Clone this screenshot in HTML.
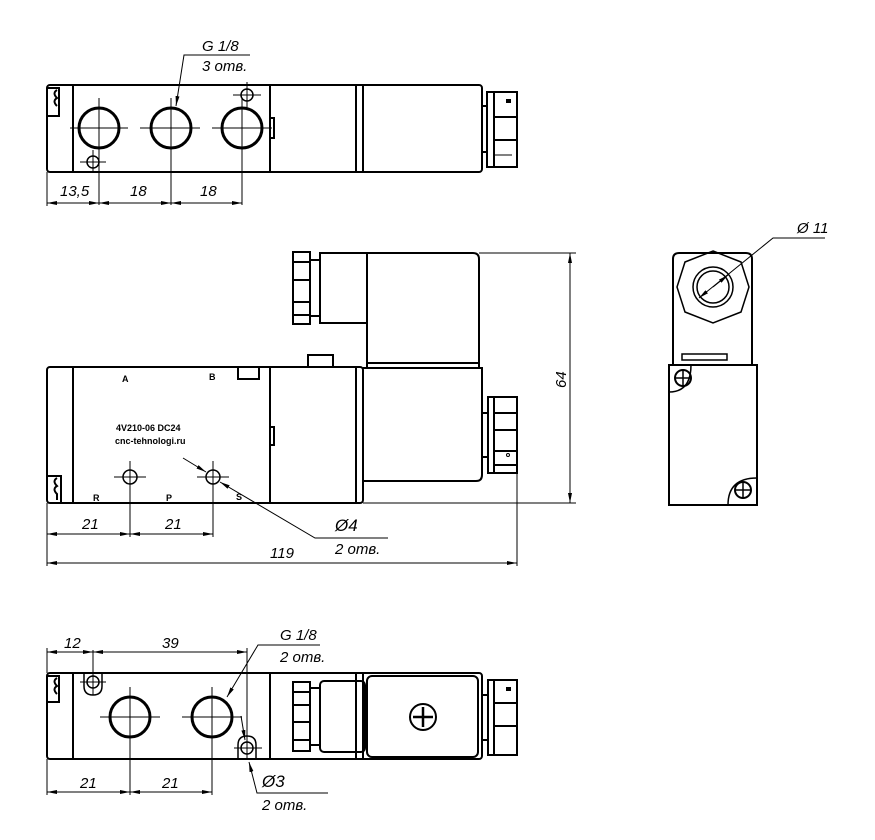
<!DOCTYPE html>
<html><head><meta charset="utf-8"><style>
html,body{margin:0;padding:0;background:#fff}
svg{display:block}
text{font-family:"Liberation Sans",sans-serif;font-style:italic;font-size:15px;fill:#000}
.b{font-style:normal;font-weight:bold;font-size:9px}
</style></head><body>
<svg width="875" height="840" viewBox="0 0 875 840" xmlns="http://www.w3.org/2000/svg">
<defs>
<marker id="a" viewBox="0 0 10 4" refX="10" refY="2" markerWidth="10" markerHeight="4" orient="auto-start-reverse" markerUnits="userSpaceOnUse"><path d="M0,0L10,2L0,4z" fill="#000"/></marker>
</defs>
<g fill="none" stroke="#000" stroke-width="2">
<!-- TOP VIEW -->
<rect x="47" y="85" width="435" height="87" rx="3"/>
<line x1="73" y1="85" x2="73" y2="172"/>
<line x1="270" y1="85" x2="270" y2="172"/>
<line x1="356" y1="85" x2="356" y2="172"/>
<line x1="363" y1="85" x2="363" y2="172"/>
<path d="M47,88 h12 v28 h-12"/>
<path d="M57,90 q-5,3 0,8 q-5,3 0,8"/>
<rect x="270" y="118" width="4" height="20"/>
<rect x="487" y="92" width="30" height="75"/>
<line x1="494" y1="92" x2="494" y2="167"/>
<line x1="494" y1="117" x2="517" y2="117"/>
<line x1="494" y1="140" x2="517" y2="140"/>
<line x1="482" y1="106" x2="487" y2="106"/>
<line x1="482" y1="152" x2="487" y2="152"/>
<line x1="494" y1="155" x2="512" y2="155" stroke-width="1"/>
<circle cx="99" cy="128" r="20" stroke-width="3"/>
<circle cx="171" cy="128" r="20" stroke-width="3"/>
<circle cx="242" cy="128" r="20" stroke-width="3"/>
<circle cx="93" cy="162" r="6" stroke-width="1.5"/>
<circle cx="247" cy="95" r="6" stroke-width="1.5"/>
<rect x="507" y="100" width="3" height="2" fill="#000"/>
</g>
<g stroke="#000" stroke-width="1" fill="none">
<line x1="70" y1="128" x2="128" y2="128"/><line x1="99" y1="98" x2="99" y2="205"/>
<line x1="140" y1="128" x2="200" y2="128"/><line x1="171" y1="98" x2="171" y2="205"/>
<line x1="212" y1="128" x2="272" y2="128"/><line x1="242" y1="98" x2="242" y2="205"/>
<line x1="80" y1="162" x2="106" y2="162"/><line x1="93" y1="150" x2="93" y2="172"/>
<line x1="233" y1="95" x2="261" y2="95"/><line x1="247" y1="82" x2="247" y2="108"/>
<line x1="47" y1="172" x2="47" y2="206"/>
<line x1="47" y1="203" x2="99" y2="203" marker-start="url(#a)" marker-end="url(#a)"/>
<line x1="99" y1="203" x2="171" y2="203" marker-start="url(#a)" marker-end="url(#a)"/>
<line x1="171" y1="203" x2="242" y2="203" marker-start="url(#a)" marker-end="url(#a)"/>
<polyline points="250,55 184,55 176,106" marker-end="url(#a)"/>
</g>
<text x="60" y="196">13,5</text><text x="130" y="196">18</text><text x="200" y="196">18</text>
<text x="202" y="51">G 1/8</text><text x="202" y="71">3 отв.</text>

<!-- FRONT VIEW -->
<g fill="none" stroke="#000" stroke-width="2">
<rect x="47" y="367" width="316" height="136" rx="3"/>
<line x1="73" y1="367" x2="73" y2="503"/>
<line x1="270" y1="367" x2="270" y2="503"/>
<line x1="356" y1="367" x2="356" y2="503"/>
<path d="M47,476 h14 v27"/>
<path d="M57,478 q-5,3 0,8 q-5,3 0,8 v6"/>
<rect x="270" y="427" width="4" height="18"/>
<rect x="238" y="367" width="21" height="12"/>
<rect x="308" y="355" width="25" height="12"/>
<path d="M363,368 H482 V475 q0,6 -6,6 H363"/>
<path d="M367,368 V253 H473 q6,0 6,6 V368"/>
<line x1="367" y1="363" x2="479" y2="363"/>
<rect x="320" y="253" width="47" height="70"/>
<rect x="293" y="252" width="17" height="72"/>
<line x1="310" y1="260" x2="320" y2="260"/><line x1="310" y1="316" x2="320" y2="316"/>
<line x1="293" y1="262" x2="310" y2="262"/><line x1="293" y1="280" x2="310" y2="280"/>
<line x1="293" y1="302" x2="310" y2="302"/><line x1="293" y1="315" x2="310" y2="315"/>
<rect x="488" y="397" width="29" height="76"/>
<line x1="494" y1="397" x2="494" y2="473"/>
<line x1="494" y1="413" x2="517" y2="413"/><line x1="494" y1="430" x2="517" y2="430"/>
<line x1="494" y1="451" x2="517" y2="451"/><line x1="494" y1="465" x2="517" y2="465"/>
<line x1="482" y1="413" x2="488" y2="413"/><line x1="482" y1="457" x2="488" y2="457"/>
<circle cx="130" cy="477" r="7" stroke-width="1.5"/>
<circle cx="213" cy="477" r="7" stroke-width="1.5"/>
<circle cx="508" cy="455" r="1.5" stroke-width="1"/>
</g>
<g stroke="#000" stroke-width="1" fill="none">
<line x1="114" y1="477" x2="146" y2="477"/><line x1="130" y1="461" x2="130" y2="537"/>
<line x1="197" y1="477" x2="229" y2="477"/><line x1="213" y1="461" x2="213" y2="537"/>
<line x1="47" y1="503" x2="47" y2="566"/>
<line x1="517" y1="473" x2="517" y2="566"/>
<line x1="47" y1="534" x2="130" y2="534" marker-start="url(#a)" marker-end="url(#a)"/>
<line x1="130" y1="534" x2="213" y2="534" marker-start="url(#a)" marker-end="url(#a)"/>
<line x1="47" y1="563" x2="517" y2="563" marker-start="url(#a)" marker-end="url(#a)"/>
<line x1="479" y1="253" x2="576" y2="253"/>
<line x1="363" y1="503" x2="576" y2="503"/>
<line x1="570" y1="253" x2="570" y2="503" marker-start="url(#a)" marker-end="url(#a)"/>
<line x1="183" y1="458" x2="206" y2="472" marker-end="url(#a)"/>
<polyline points="388,538 315,538 220,482" marker-end="url(#a)"/>
</g>
<text class="b" x="122" y="382">A</text><text class="b" x="209" y="380">B</text>
<text class="b" x="93" y="501">R</text><text class="b" x="166" y="501">P</text><text class="b" x="236" y="500">S</text>
<text class="b" x="116" y="431">4V210-06 DC24</text><text class="b" x="115" y="444">cnc-tehnologi.ru</text>
<text x="82" y="529">21</text><text x="165" y="529">21</text>
<text x="270" y="558">119</text>
<text x="335" y="531" style="font-size:17px">Ø4</text><text x="335" y="554">2 отв.</text>
<text transform="translate(566,388) rotate(-90)">64</text>

<!-- SIDE VIEW -->
<g fill="none" stroke="#000" stroke-width="2">
<path d="M673,365 V259 q0,-6 6,-6 H746 q6,0 6,6 V365"/>
<rect x="669" y="365" width="88" height="140"/>
<polygon points="713,251 741,262 749,287 741,312 713,323 685,312 677,287 685,262" stroke-width="1.5"/>
<circle cx="713" cy="287" r="20" stroke-width="1.5"/>
<circle cx="713" cy="287" r="16" stroke-width="1.5"/>
<rect x="682" y="354" width="45" height="6" stroke-width="1.5"/>
<path d="M669,392 q22,0 22,-27" stroke-width="1.5"/>
<path d="M757,478 q-29,0 -29,27" stroke-width="1.5"/>
<circle cx="683" cy="378" r="8"/>
<circle cx="743" cy="490" r="8"/>
</g>
<g stroke="#000" stroke-width="1.5"><line x1="683" y1="371" x2="683" y2="385"/><line x1="676" y1="378" x2="690" y2="378"/>
<line x1="743" y1="483" x2="743" y2="497"/><line x1="736" y1="490" x2="750" y2="490"/></g>
<g stroke="#000" stroke-width="1" fill="none">
<polyline points="825,238 773,238 699,298" marker-end="url(#a)"/>
<line x1="713" y1="287" x2="728" y2="275" marker-end="url(#a)"/>
</g>
<text x="797" y="233">Ø 11</text>

<!-- BOTTOM VIEW -->
<g fill="none" stroke="#000" stroke-width="2">
<rect x="47" y="673" width="435" height="86" rx="3"/>
<line x1="73" y1="673" x2="73" y2="759"/>
<line x1="270" y1="673" x2="270" y2="759"/>
<line x1="356" y1="673" x2="356" y2="759"/>
<line x1="363" y1="673" x2="363" y2="759"/>
<path d="M47,676 h12 v26 h-12"/>
<path d="M57,678 q-5,3 0,8 q-5,3 0,8"/>
<rect x="367" y="676" width="111" height="81" rx="5"/>
<rect x="320" y="681" width="45" height="71" rx="4"/>
<rect x="293" y="682" width="17" height="69"/>
<line x1="293" y1="692" x2="310" y2="692"/><line x1="293" y1="705" x2="310" y2="705"/>
<line x1="293" y1="722" x2="310" y2="722"/><line x1="293" y1="740" x2="310" y2="740"/>
<line x1="310" y1="688" x2="320" y2="688"/><line x1="310" y1="745" x2="320" y2="745"/>
<rect x="488" y="680" width="29" height="75"/>
<line x1="494" y1="680" x2="494" y2="755"/>
<line x1="494" y1="703" x2="517" y2="703"/><line x1="494" y1="726" x2="517" y2="726"/>
<line x1="482" y1="695" x2="488" y2="695"/><line x1="482" y1="740" x2="488" y2="740"/>
<circle cx="130" cy="717" r="20" stroke-width="3"/>
<circle cx="212" cy="717" r="20" stroke-width="3"/>
<circle cx="423" cy="717" r="13"/>
<circle cx="93" cy="682" r="6" stroke-width="1.5"/>
<path d="M84,673 V686 q0,9 9,9 q9,0 9,-9 V673" stroke-width="1.5"/>
<circle cx="247" cy="748" r="6" stroke-width="1.5"/>
<path d="M238,759 V745 q0,-9 9,-9 q9,0 9,9 V759" stroke-width="1.5"/>
<rect x="507" y="688" width="3" height="2" fill="#000"/>
</g>
<g stroke="#000" stroke-width="2.5"><line x1="423" y1="707" x2="423" y2="727"/><line x1="413" y1="717" x2="433" y2="717"/></g>
<g stroke="#000" stroke-width="1" fill="none">
<line x1="100" y1="717" x2="160" y2="717"/><line x1="130" y1="687" x2="130" y2="795"/>
<line x1="182" y1="717" x2="242" y2="717"/><line x1="212" y1="687" x2="212" y2="795"/>
<line x1="80" y1="682" x2="106" y2="682"/><line x1="93" y1="650" x2="93" y2="695"/>
<line x1="234" y1="748" x2="262" y2="748"/><line x1="247" y1="648" x2="247" y2="760"/>
<line x1="47" y1="648" x2="47" y2="673"/>
<line x1="47" y1="759" x2="47" y2="795"/>
<line x1="47" y1="652" x2="93" y2="652" marker-start="url(#a)" marker-end="url(#a)"/>
<line x1="93" y1="652" x2="247" y2="652" marker-start="url(#a)" marker-end="url(#a)"/>
<line x1="47" y1="792" x2="130" y2="792" marker-start="url(#a)" marker-end="url(#a)"/>
<line x1="130" y1="792" x2="212" y2="792" marker-start="url(#a)" marker-end="url(#a)"/>
<polyline points="320,645 258,645 227,697" marker-end="url(#a)"/>
<polyline points="328,793 257,793 249,762" marker-end="url(#a)"/>
<line x1="241" y1="716" x2="245" y2="740" marker-end="url(#a)"/>
</g>
<text x="64" y="648">12</text><text x="162" y="648">39</text>
<text x="280" y="640">G 1/8</text><text x="280" y="662">2 отв.</text>
<text x="80" y="788">21</text><text x="162" y="788">21</text>
<text x="262" y="787" style="font-size:17px">Ø3</text><text x="262" y="810">2 отв.</text>
</svg>
</body></html>
